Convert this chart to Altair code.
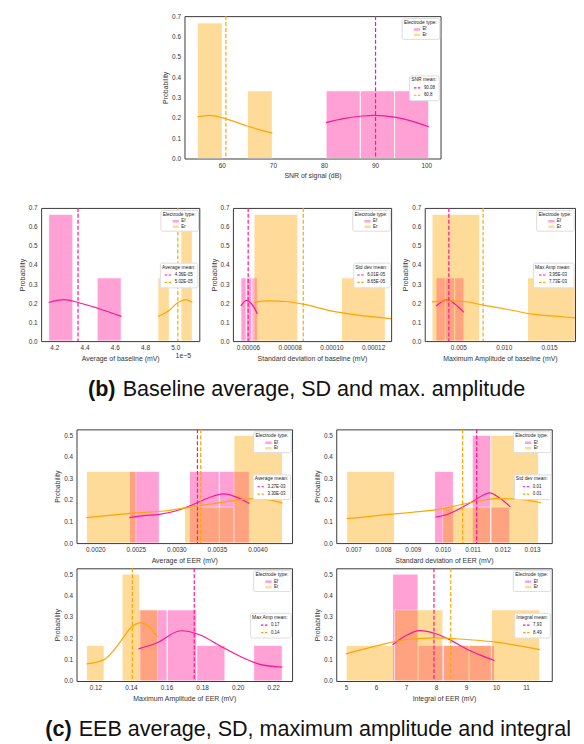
import altair as alt
import pandas as pd

FONT = "Liberation Sans"
PINK = "#ff1493"
ORANGE = "#ffa500"
TEXT = "#333333"
TYPES = ["Ef", "Er"]
TYPE_TITLE = "Electrode type:"
Y_TITLE = "Probability"

# ---------------- top: SNR ----------------
SNR_EF_EDGES = [80.4, 87.1, 93.8, 100.5]
SNR_EF_PROB = [0.333, 0.333, 0.333]
SNR_ER_EDGES = [55.2, 60.1, 65.0, 69.9]
SNR_ER_PROB = [0.667, 0.0, 0.333]
SNR_EF_KDE_X = [80.4, 84.0, 87.5, 90.0, 93.8, 97.0, 100.5]
SNR_EF_KDE_Y = [0.176, 0.197, 0.209, 0.212, 0.203, 0.185, 0.156]
SNR_ER_KDE_X = [55.2, 57.5, 60.0, 62.5, 65.0, 67.5, 69.9]
SNR_ER_KDE_Y = [0.204, 0.212, 0.201, 0.181, 0.160, 0.141, 0.125]
SNR_MEANS = [90.08, 60.8]
SNR_MEAN_LABELS = ["90.08", "60.8"]
SNR_XTICKS = [60, 70, 80, 90, 100]

# ---------------- (b) baseline ----------------
B1_EF_EDGES = [4.163e-5, 4.323e-5, 4.483e-5, 4.643e-5]
B1_EF_PROB = [0.667, 0.0, 0.333]
B1_ER_EDGES = [4.885e-5, 4.961e-5, 5.037e-5, 5.113e-5]
B1_ER_PROB = [0.333, 0.0, 0.667]
B1_EF_KDE_X = [4.163e-5, 4.265e-5, 4.357e-5, 4.487e-5, 4.644e-5]
B1_EF_KDE_Y = [0.203, 0.218, 0.203, 0.173, 0.130]
B1_ER_KDE_X = [4.885e-5, 4.957e-5, 5.017e-5, 5.070e-5, 5.113e-5]
B1_ER_KDE_Y = [0.130, 0.160, 0.203, 0.218, 0.203]
B1_MEANS = [4.357e-5, 5.017e-5]
B1_MEAN_LABELS = ["4.36E-05", "5.02E-05"]
B1_XTICKS = [4.2e-5, 4.4e-5, 4.6e-5, 4.8e-5, 5.0e-5]

B2_EF_EDGES = [5.66e-5, 5.92e-5, 6.19e-5, 6.45e-5]
B2_EF_PROB = [0.333, 0.333, 0.333]
B2_ER_EDGES = [6.29e-5, 8.39e-5, 10.48e-5, 12.58e-5]
B2_ER_PROB = [0.667, 0.0, 0.333]
B2_EF_KDE_X = [5.66e-5, 5.80e-5, 5.92e-5, 6.05e-5, 6.18e-5, 6.32e-5, 6.45e-5]
B2_EF_KDE_Y = [0.185, 0.205, 0.214, 0.208, 0.195, 0.172, 0.142]
B2_ER_KDE_X = [6.29e-5, 7.0e-5, 7.8e-5, 8.65e-5, 9.98e-5, 11.1e-5, 12.6e-5, 12.86e-5]
B2_ER_KDE_Y = [0.204, 0.211, 0.208, 0.194, 0.159, 0.139, 0.121, 0.118]
B2_MEANS = [6.01e-5, 8.65e-5]
B2_MEAN_LABELS = ["6.01E-05", "8.65E-05"]
B2_XTICKS = [6e-5, 8e-5, 10e-5, 12e-5]

B3_EF_EDGES = [2.53e-3, 3.56e-3, 4.59e-3, 5.62e-3]
B3_EF_PROB = [0.333, 0.333, 0.333]
B3_ER_EDGES = [2.09e-3, 7.36e-3, 12.63e-3, 17.9e-3]
B3_ER_PROB = [0.667, 0.0, 0.333]
B3_EF_KDE_X = [2.53e-3, 3.05e-3, 3.55e-3, 3.95e-3, 4.64e-3, 5.62e-3]
B3_EF_KDE_Y = [0.184, 0.203, 0.215, 0.216, 0.194, 0.151]
B3_ER_KDE_X = [2.09e-3, 3.95e-3, 5.62e-3, 7.73e-3, 10.64e-3, 13.18e-3, 16.45e-3, 18.3e-3]
B3_ER_KDE_Y = [0.206, 0.211, 0.208, 0.189, 0.165, 0.142, 0.128, 0.121]
B3_MEANS = [3.95e-3, 7.73e-3]
B3_MEAN_LABELS = ["3.95E-03", "7.73E-03"]
B3_XTICKS = [0.005, 0.010, 0.015]

# ---------------- (c) EER ----------------
C1_EF_EDGES = [2.42e-3, 2.79e-3, 3.16e-3, 3.53e-3, 3.90e-3]
C1_EF_PROB = [0.333, 0.0, 0.333, 0.333]
C1_ER_EDGES = [1.89e-3, 2.50e-3, 3.10e-3, 3.71e-3, 4.31e-3]
C1_ER_PROB = [0.333, 0.0, 0.167, 0.5]
C1_EF_KDE_X = [2.42e-3, 2.6e-3, 2.79e-3, 3.0e-3, 3.2e-3, 3.4e-3, 3.58e-3, 3.75e-3, 3.90e-3]
C1_EF_KDE_Y = [0.118, 0.127, 0.133, 0.150, 0.178, 0.210, 0.228, 0.212, 0.183]
C1_ER_KDE_X = [1.89e-3, 2.2e-3, 2.5e-3, 2.9e-3, 3.17e-3, 3.4e-3, 3.62e-3, 3.95e-3, 4.15e-3, 4.31e-3]
C1_ER_KDE_Y = [0.118, 0.130, 0.140, 0.151, 0.167, 0.180, 0.192, 0.206, 0.200, 0.185]
C1_MEANS = [3.26e-3, 3.30e-3]
C1_MEAN_LABELS = ["3.27E-03", "3.30E-03"]
C1_XTICKS = [0.0020, 0.0025, 0.0030, 0.0035, 0.0040]

C2_EF_EDGES = [9.73e-3, 10.36e-3, 10.99e-3, 11.62e-3, 12.25e-3]
C2_EF_PROB = [0.333, 0.0, 0.5, 0.167]
C2_ER_EDGES = [6.78e-3, 8.39e-3, 10.0e-3, 11.61e-3, 13.22e-3]
C2_ER_PROB = [0.333, 0.0, 0.167, 0.5]
C2_EF_KDE_X = [9.76e-3, 10.1e-3, 10.37e-3, 10.64e-3, 11.09e-3, 11.35e-3, 11.58e-3, 11.9e-3, 12.27e-3]
C2_EF_KDE_Y = [0.120, 0.130, 0.145, 0.165, 0.200, 0.222, 0.233, 0.210, 0.168]
C2_ER_KDE_X = [6.78e-3, 7.5e-3, 8.2e-3, 9.0e-3, 9.76e-3, 10.64e-3, 11.2e-3, 11.75e-3, 12.4e-3, 13.3e-3]
C2_ER_KDE_Y = [0.113, 0.123, 0.133, 0.143, 0.154, 0.179, 0.195, 0.206, 0.205, 0.187]
C2_MEANS = [11.14e-3, 10.67e-3]
C2_MEAN_LABELS = ["0.01", "0.01"]
C2_XTICKS = [0.007, 0.008, 0.009, 0.010, 0.011, 0.012, 0.013]

C3_EF_EDGES = [0.1443, 0.1604, 0.1770, 0.1929, 0.2090, 0.2251]
C3_EF_PROB = [0.333, 0.333, 0.167, 0.0, 0.167]
C3_ER_EDGES = [0.115, 0.125, 0.135, 0.145, 0.155]
C3_ER_PROB = [0.167, 0.0, 0.5, 0.333]
C3_EF_KDE_X = [0.1443, 0.155, 0.168, 0.179, 0.190, 0.2015, 0.2126, 0.2251]
C3_EF_KDE_Y = [0.150, 0.180, 0.235, 0.215, 0.165, 0.115, 0.078, 0.065]
C3_ER_KDE_X = [0.115, 0.125, 0.130, 0.135, 0.140, 0.1454, 0.150, 0.155]
C3_ER_KDE_Y = [0.080, 0.100, 0.140, 0.195, 0.250, 0.272, 0.255, 0.205]
C3_MEANS = [0.1756, 0.1408]
C3_MEAN_LABELS = ["0.17", "0.14"]
C3_XTICKS = [0.12, 0.14, 0.16, 0.18, 0.20, 0.22]

C4_EF_EDGES = [6.55, 7.40, 8.25, 9.10, 9.95]
C4_EF_PROB = [0.5, 0.167, 0.167, 0.167]
C4_ER_EDGES = [5.0, 6.615, 8.23, 9.845, 11.46]
C4_ER_PROB = [0.167, 0.333, 0.167, 0.333]
C4_EF_KDE_X = [6.55, 7.0, 7.45, 8.0, 8.5, 9.0, 9.5, 9.95]
C4_EF_KDE_Y = [0.170, 0.213, 0.236, 0.221, 0.190, 0.151, 0.120, 0.096]
C4_ER_KDE_X = [5.0, 6.0, 7.0, 8.0, 9.0, 10.0, 11.46]
C4_ER_KDE_Y = [0.127, 0.164, 0.194, 0.202, 0.194, 0.182, 0.147]
C4_MEANS = [7.93, 8.49]
C4_MEAN_LABELS = ["7.93", "8.49"]
C4_XTICKS = [5, 6, 7, 8, 9, 10, 11]

Y_TICKS_B = [0.0, 0.1, 0.2, 0.3, 0.4, 0.5, 0.6, 0.7]
Y_TICKS_C = [0.0, 0.1, 0.2, 0.3, 0.4, 0.5]

CAPTION_B_TAG = "(b)"
CAPTION_B = "Baseline average, SD and max. amplitude"
CAPTION_C_TAG = "(c)"
CAPTION_C = "EEB average, SD, maximum amplitude and integral"

AW = {"0": 556, "1": 556, "2": 556, "3": 556, "4": 556, "5": 556, "6": 556,
      "7": 556, "8": 556, "9": 556, ".": 278, ",": 278, ":": 278, "-": 333,
      " ": 278, "E": 667, "A": 667, "S": 667, "N": 722, "R": 722, "M": 833,
      "I": 278, "D": 722, "v": 500, "e": 556, "r": 333, "a": 556, "g": 556,
      "m": 833, "n": 556, "t": 278, "d": 556, "x": 500, "p": 556, "i": 222,
      "l": 222, "f": 278, "c": 500, "o": 556, "y": 500}


def tw(s, size):
    return sum(AW.get(ch, 556) for ch in s) / 1000.0 * size


def hist_rows(edges, probs, t):
    return [{"x": edges[i], "x2": edges[i + 1], "p": probs[i], "p0": 0.0, "type": t}
            for i in range(len(probs)) if probs[i] > 0]


def panel(ef_edges, ef_prob, er_edges, er_prob, ef_kx, ef_ky, er_kx, er_ky,
          means, mean_labels, mean_title, xdomain, xticks, xfmt, xtitle,
          ydomain, yticks, W, H, label_expr=None, offset_text=None):
    bars = pd.DataFrame(hist_rows(ef_edges, ef_prob, "Ef") + hist_rows(er_edges, er_prob, "Er"))
    kde = pd.DataFrame(
        [{"x": a, "y": b, "type": "Ef"} for a, b in zip(ef_kx, ef_ky)]
        + [{"x": a, "y": b, "type": "Er"} for a, b in zip(er_kx, er_ky)])
    mdf = pd.DataFrame({"x": means, "key": ["m0", "m1"]})

    xscale = alt.Scale(domain=xdomain, nice=False, zero=False)
    yscale = alt.Scale(domain=ydomain, nice=False, zero=False)
    if label_expr:
        xaxis = alt.Axis(values=xticks, labelExpr=label_expr)
    else:
        xaxis = alt.Axis(values=xticks, format=xfmt)
    yaxis = alt.Axis(values=yticks, format=".1f")

    w1 = 4 + max(tw(TYPE_TITLE, 5), 6.3 + 2 + tw("Er", 4.5))
    w2 = 4 + max(tw(mean_title, 5), 7.1 + 2 + max(tw(l, 4.5) for l in mean_labels))
    leg1 = alt.Legend(title=TYPE_TITLE, orient="none", legendX=W - w1 - 2, legendY=2,
                      symbolType="M-1,-0.4L1,-0.4L1,0.4L-1,0.4Z", symbolSize=40,
                      symbolOpacity=0.4, symbolStrokeWidth=0, titleAnchor="middle")
    expr = "datum.label == 'm0' ? '%s' : '%s'" % (mean_labels[0], mean_labels[1])
    leg2 = alt.Legend(title=mean_title, orient="none", legendX=W - w2 - 2,
                      legendY=H / 2 - 12, symbolType="stroke", symbolSize=50,
                      symbolDash=[2.5, 1.5], symbolStrokeWidth=1.2, labelExpr=expr,
                      titleAnchor="middle")

    X = lambda f: alt.X(f + ":Q", scale=xscale, axis=xaxis, title=xtitle)
    Y = lambda f: alt.Y(f + ":Q", scale=yscale, axis=yaxis, title=Y_TITLE)

    bar_layer = alt.Chart(bars).mark_rect(opacity=0.4, stroke="white", strokeWidth=1, clip=True).encode(
        x=X("x"), x2="x2:Q", y=Y("p"), y2="p0:Q",
        fill=alt.Fill("type:N", scale=alt.Scale(domain=TYPES, range=[PINK, ORANGE]), legend=leg1),
    )
    kde_layer = alt.Chart(kde).mark_line(interpolate="monotone", strokeWidth=1.2, clip=True).encode(
        x=X("x"), y=Y("y"),
        color=alt.Color("type:N", scale=alt.Scale(domain=TYPES, range=[PINK, ORANGE]), legend=None),
    )
    rule_layer = alt.Chart(mdf).mark_rule(strokeDash=[4, 2], strokeWidth=1.2).encode(
        x=X("x"),
        stroke=alt.Stroke("key:N", scale=alt.Scale(domain=["m0", "m1"], range=[PINK, ORANGE]), legend=leg2),
    )
    layers = [bar_layer, kde_layer, rule_layer]
    if offset_text:
        odf = pd.DataFrame({"t": [offset_text]})
        layers.append(alt.Chart(odf).mark_text(align="left", baseline="top", font=FONT, fontSize=7,
                                               color=TEXT).encode(
            text="t:N", x=alt.value(W - 24), y=alt.value(H + 11)))
    return alt.layer(*layers).properties(width=W, height=H)


NOVIEW = alt.ViewBackground(strokeWidth=0, strokeOpacity=0)


def spacer(w, h):
    return alt.Chart(pd.DataFrame({"a": [0]})).mark_point(opacity=0).properties(
        width=w, height=h, view=NOVIEW)


def caption(tag, text, tag_right, text_left, base_y, w, h):
    df = pd.DataFrame({"tag": [tag], "text": [text]})
    t1 = alt.Chart(df).mark_text(font=FONT, fontSize=21.8, fontWeight="bold", align="right",
                                 baseline="alphabetic", color="#111111").encode(
        text="tag:N", x=alt.value(tag_right), y=alt.value(base_y))
    t2 = alt.Chart(df).mark_text(font=FONT, fontSize=21.8, align="left",
                                 baseline="alphabetic", color="#111111").encode(
        text="text:N", x=alt.value(text_left), y=alt.value(base_y))
    return alt.layer(t1, t2).properties(width=w, height=h, view=NOVIEW)


def ind(c):
    return c.resolve_scale(fill="independent", stroke="independent", color="independent")


W_TOP, H_TOP = 259, 144
W_B, W_B3, H_B = 160, 152, 134.7
W_C, H_C1, H_C2 = 218, 115, 114

top = panel(SNR_EF_EDGES, SNR_EF_PROB, SNR_ER_EDGES, SNR_ER_PROB, SNR_EF_KDE_X, SNR_EF_KDE_Y,
            SNR_ER_KDE_X, SNR_ER_KDE_Y, SNR_MEANS, SNR_MEAN_LABELS, "SNR mean:",
            [52.7, 102.8], SNR_XTICKS, "d", "SNR of signal (dB)", [0, 0.7], Y_TICKS_B, W_TOP, H_TOP)
b1 = panel(B1_EF_EDGES, B1_EF_PROB, B1_ER_EDGES, B1_ER_PROB, B1_EF_KDE_X, B1_EF_KDE_Y,
           B1_ER_KDE_X, B1_ER_KDE_Y, B1_MEANS, B1_MEAN_LABELS, "Average mean:",
           [4.113e-5, 5.159e-5], B1_XTICKS, None, "Average of baseline (mV)", [0, 0.7], Y_TICKS_B,
           W_B, H_B, label_expr="format(datum.value * 100000, '.1f')", offset_text="1e\u22125")
b2 = panel(B2_EF_EDGES, B2_EF_PROB, B2_ER_EDGES, B2_ER_PROB, B2_EF_KDE_X, B2_EF_KDE_Y,
           B2_ER_KDE_X, B2_ER_KDE_Y, B2_MEANS, B2_MEAN_LABELS, "Std dev mean:",
           [5.28e-5, 12.86e-5], B2_XTICKS, ".5f", "Standard deviation of baseline (mV)", [0, 0.7],
           Y_TICKS_B, W_B, H_B)
b3 = panel(B3_EF_EDGES, B3_EF_PROB, B3_ER_EDGES, B3_ER_PROB, B3_EF_KDE_X, B3_EF_KDE_Y,
           B3_ER_KDE_X, B3_ER_KDE_Y, B3_MEANS, B3_MEAN_LABELS, "Max Amp mean:",
           [1.29e-3, 17.87e-3], B3_XTICKS, ".3f", "Maximum Amplitude of baseline (mV)", [0, 0.7],
           Y_TICKS_B, W_B3, H_B)
c1 = panel(C1_EF_EDGES, C1_EF_PROB, C1_ER_EDGES, C1_ER_PROB, C1_EF_KDE_X, C1_EF_KDE_Y,
           C1_ER_KDE_X, C1_ER_KDE_Y, C1_MEANS, C1_MEAN_LABELS, "Average mean:",
           [1.768e-3, 4.427e-3], C1_XTICKS, ".4f", "Average of EER (mV)", [0, 0.527], Y_TICKS_C,
           W_C, H_C1)
c2 = panel(C2_EF_EDGES, C2_EF_PROB, C2_ER_EDGES, C2_ER_PROB, C2_EF_KDE_X, C2_EF_KDE_Y,
           C2_ER_KDE_X, C2_ER_KDE_Y, C2_MEANS, C2_MEAN_LABELS, "Std dev mean:",
           [6.43e-3, 13.66e-3], C2_XTICKS, ".3f", "Standard deviation of EER (mV)", [0, 0.527],
           Y_TICKS_C, W_C, H_C1)
c3 = panel(C3_EF_EDGES, C3_EF_PROB, C3_ER_EDGES, C3_ER_PROB, C3_EF_KDE_X, C3_EF_KDE_Y,
           C3_ER_KDE_X, C3_ER_KDE_Y, C3_MEANS, C3_MEAN_LABELS, "Max Amp mean:",
           [0.1094, 0.2306], C3_XTICKS, ".2f", "Maximum Amplitude of EER (mV)", [0, 0.527],
           Y_TICKS_C, W_C, H_C2)
c4 = panel(C4_EF_EDGES, C4_EF_PROB, C4_ER_EDGES, C4_ER_PROB, C4_EF_KDE_X, C4_EF_KDE_Y,
           C4_ER_KDE_X, C4_ER_KDE_Y, C4_MEANS, C4_MEAN_LABELS, "Integral mean:",
           [4.67, 11.86], C4_XTICKS, "d", "Integral of EER (mV)", [0, 0.527], Y_TICKS_C,
           W_C, H_C2)

# rows are aligned on their origins (the leftmost plot's left edge, page x = 41.5)
rowA = ind(alt.hconcat(spacer(120.5, 10), top, spacing=0))
rowB = ind(alt.hconcat(b1, b2, b3, spacing=9))
capB = caption(CAPTION_B_TAG, CAPTION_B, 75.2, 82.5, 33.8, 530, 66)
rowC1 = ind(alt.hconcat(spacer(1, 10), ind(alt.hconcat(c1, c2, spacing=19.7)), spacing=7.8))
rowC2 = ind(alt.hconcat(spacer(1, 10), ind(alt.hconcat(c3, c4, spacing=19.7)), spacing=7.8))
gridC = ind(alt.vconcat(rowC1, rowC2, spacing=2.5))
capC = caption(CAPTION_C_TAG, CAPTION_C, 30.8, 38.0, 33.8, 530, 38)

chart = ind(alt.vconcat(rowA, spacer(10, 25), rowB, capB, gridC, capC, spacing=0)).properties(
    padding={"left": 9.5, "top": 0, "right": 0, "bottom": 0}
).configure_view(
    stroke="#3a3a3a", strokeWidth=1
).configure_axis(
    labelFont=FONT, titleFont=FONT, labelFontSize=6.5, titleFontSize=7,
    labelColor=TEXT, titleColor=TEXT, titleFontWeight="normal",
    ticks=False, tickSize=0, domain=False, grid=False,
    labelPadding=4, titlePadding=3, labelOverlap=False, labelFlush=False
).configure_legend(
    titleFont=FONT, labelFont=FONT, titleFontSize=5, labelFontSize=4.5,
    titleFontWeight="normal", titleColor="#222222", labelColor="#222222",
    padding=2, fillColor="white", strokeColor="#dddddd", cornerRadius=1.5,
    rowPadding=0.5, titlePadding=1, labelOffset=2
)

chart.save("out.html", embed_options={"renderer": "svg", "actions": False})
